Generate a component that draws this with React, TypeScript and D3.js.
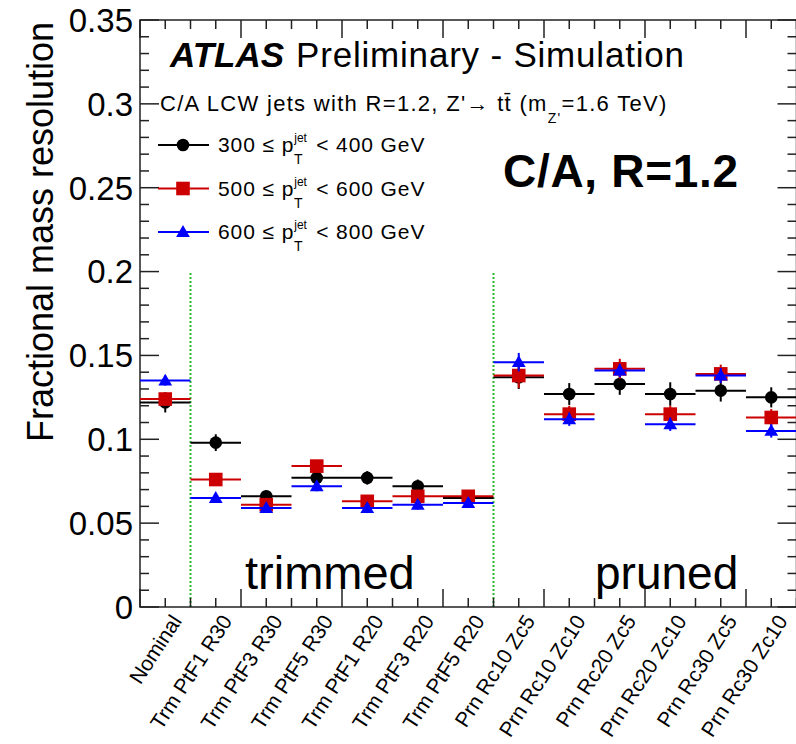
import React from "react";
import * as d3 from "d3";

// Jet grooming configurations (x categories)
const CATEGORIES = [
  "Nominal",
  "Trm PtF1 R30",
  "Trm PtF3 R30",
  "Trm PtF5 R30",
  "Trm PtF1 R20",
  "Trm PtF3 R20",
  "Trm PtF5 R20",
  "Prn Rc10 Zc5",
  "Prn Rc10 Zc10",
  "Prn Rc20 Zc5",
  "Prn Rc20 Zc10",
  "Prn Rc30 Zc5",
  "Prn Rc30 Zc10",
];

// Fractional mass resolution per pT bin
const RES_300_400 = [0.122, 0.098, 0.066, 0.077, 0.077, 0.072, 0.065, 0.137, 0.127, 0.133, 0.127, 0.129, 0.125];
const ERR_300_400 = [0.006, 0.005, 0.0035, 0.004, 0.004, 0.004, 0.003, 0.007, 0.0065, 0.0065, 0.007, 0.0065, 0.006];
const RES_500_600 = [0.124, 0.076, 0.061, 0.084, 0.063, 0.066, 0.066, 0.138, 0.115, 0.142, 0.115, 0.139, 0.113];
const ERR_500_600 = [0.004, 0.003, 0.003, 0.003, 0.003, 0.003, 0.003, 0.0075, 0.005, 0.006, 0.005, 0.0055, 0.005];
const RES_600_800 = [0.135, 0.065, 0.059, 0.072, 0.059, 0.061, 0.062, 0.146, 0.112, 0.141, 0.109, 0.138, 0.105];
const ERR_600_800 = [0.003, 0.003, 0.002, 0.003, 0.003, 0.003, 0.003, 0.0055, 0.004, 0.004, 0.004, 0.0045, 0.004];

const PT_LOW = ["300", "500", "600"];
const PT_HIGH = ["400", "600", "800"];

const Y_MAJOR = [0, 0.05, 0.1, 0.15, 0.2, 0.25, 0.3, 0.35];
const Y_LABELS = ["0", "0.05", "0.1", "0.15", "0.2", "0.25", "0.3", "0.35"];
const GROUP_BOUNDARIES = [1, 7];
const DIVIDER_TOP = 0.2;

const W = 796;
const H = 744;
const FONT = "'Liberation Sans', Arial, Helvetica, sans-serif";

const SERIES = [
  { key: "a", values: RES_300_400, errors: ERR_300_400, color: "#000000", marker: "circle" },
  { key: "b", values: RES_500_600, errors: ERR_500_600, color: "#cc0000", marker: "square" },
  { key: "c", values: RES_600_800, errors: ERR_600_800, color: "#0000ff", marker: "triangle" },
];

const x = d3.scaleLinear().domain([0, CATEGORIES.length]).range([140, 796.5]);
const y = d3.scaleLinear().domain([0, 0.35]).range([607, 20]);

const triPath = d3.symbol().type(d3.symbolTriangle).size(82)() as string;

function Marker({ type, cx, cy, color }: { type: string; cx: number; cy: number; color: string }) {
  if (type === "circle") return <circle cx={cx} cy={cy} r={6.3} fill={color} />;
  if (type === "square") return <rect x={cx - 6.8} y={cy - 6.8} width={13.6} height={13.6} fill={color} />;
  return <path d={triPath} transform={`translate(${cx},${cy + 1})`} fill={color} />;
}

export default function App() {
  const axisColor = "#222";
  const xMinor = d3.range(0, CATEGORIES.length + 0.01, 0.5);
  const yMinor = d3.range(0, 0.3501, 0.01);
  const isXMajor = (v: number) => Math.abs(v % 2) < 1e-6;
  const isYMajor = (v: number) => Math.abs(Math.round(v * 100) % 5) < 1e-6;
  const [x0, x1] = x.range();
  const [y0, y1] = y.range();

  return (
    <svg width={W} height={H} style={{ position: "absolute", left: 0, top: 0, background: "#fff" }} fontFamily={FONT}>
      <rect width={W} height={H} fill="#fff" />

      {/* group dividers */}
      {GROUP_BOUNDARIES.map((b) => (
        <line key={b} x1={x(b)} x2={x(b)} y1={y(0)} y2={y(DIVIDER_TOP)} stroke="#2db82d" strokeWidth={2} strokeDasharray="2 2" />
      ))}

      {/* frame */}
      <rect x={x0} y={y1} width={x1 - x0} height={y0 - y1} fill="none" stroke={axisColor} strokeWidth={1.5} />

      {/* x ticks bottom + top */}
      {xMinor.map((v) => {
        const len = isXMajor(v) ? 18 : 9;
        return (
          <g key={"xt" + v} stroke={axisColor} strokeWidth={1.5}>
            <line x1={x(v)} x2={x(v)} y1={y0} y2={y0 - len} />
            <line x1={x(v)} x2={x(v)} y1={y1} y2={y1 + len} />
          </g>
        );
      })}

      {/* y ticks left + right */}
      {yMinor.map((v) => {
        const len = isYMajor(v) ? 19 : 9;
        return (
          <g key={"yt" + v} stroke={axisColor} strokeWidth={1.5}>
            <line x1={x0} x2={x0 + len} y1={y(v)} y2={y(v)} />
            <line x1={x1} x2={x1 - len} y1={y(v)} y2={y(v)} />
          </g>
        );
      })}

      {/* y tick labels */}
      {Y_MAJOR.map((v, i) => (
        <text key={"yl" + v} x={133} y={y(v)} dy="0.36em" textAnchor="end" fontSize={33} fill="#000">
          {Y_LABELS[i]}
        </text>
      ))}

      {/* y axis title */}
      <text transform="translate(53,232) rotate(-90)" textAnchor="middle" fontSize={36} fill="#000">
        Fractional mass resolution
      </text>

      {/* x tick labels */}
      {CATEGORIES.map((c, i) => {
        const cx = x(i + 0.5) + 11;
        return (
          <text key={c} transform={`translate(${cx},617) rotate(-57)`} textAnchor="end" dy="0.35em" fontSize={21} fill="#000">
            {c}
          </text>
        );
      })}

      {/* data: horizontal bin bars, vertical errors, markers */}
      {SERIES.map((s) => (
        <g key={s.key}>
          {s.values.map((v, i) => {
            const cx = x(i + 0.5);
            const cy = y(v);
            return (
              <g key={i}>
                <line x1={x(i)} x2={x(i + 1)} y1={cy} y2={cy} stroke={s.color} strokeWidth={2} />
                <line x1={cx} x2={cx} y1={y(v - s.errors[i])} y2={y(v + s.errors[i])} stroke={s.color} strokeWidth={2} />
                <Marker type={s.marker} cx={cx} cy={cy} color={s.color} />
              </g>
            );
          })}
        </g>
      ))}

      {/* header */}
      <text x={170} y={67} fontSize={35} fill="#000">
        <tspan fontWeight="bold" fontStyle="italic">ATLAS</tspan>
        <tspan dx={12} letterSpacing={0.8}>Preliminary - Simulation</tspan>
      </text>
      <text x={160} y={111} fontSize={22} fill="#000" letterSpacing={1.3}>
        <tspan>{"C/A LCW jets with R=1.2, Z'\u2192 t"}</tspan>
        <tspan>{"t\u0304"}</tspan>
        <tspan>{" (m"}</tspan>
        <tspan fontSize={14} dy={12}>{"Z'"}</tspan>
        <tspan dy={-12}>=1.6 TeV)</tspan>
      </text>

      {/* legend */}
      {SERIES.map((s, i) => {
        const ly = 145 + i * 43.5;
        return (
          <g key={"lg" + s.key}>
            <line x1={158} x2={209} y1={ly} y2={ly} stroke={s.color} strokeWidth={2} />
            <Marker type={s.marker} cx={183} cy={ly} color={s.color} />
            <text x={218} y={ly + 7} fontSize={21} fill="#000" letterSpacing={0.9}>
              <tspan>{`${PT_LOW[i]} \u2264 p`}</tspan>
              <tspan fontSize={12} dy={-10} letterSpacing={0}>jet</tspan>
              <tspan fontSize={14} dx={-13} dy={22} letterSpacing={0}>T</tspan>
              <tspan dx={7} dy={-12}>{` < ${PT_HIGH[i]} GeV`}</tspan>
            </text>
          </g>
        );
      })}

      <text x={503} y={187} fontSize={46} fontWeight="bold" fill="#000" letterSpacing={0.7}>C/A, R=1.2</text>

      {/* group annotations */}
      <text x={245} y={589} fontSize={47} fill="#000">trimmed</text>
      <text x={595} y={589} fontSize={46} fill="#000">pruned</text>
    </svg>
  );
}
